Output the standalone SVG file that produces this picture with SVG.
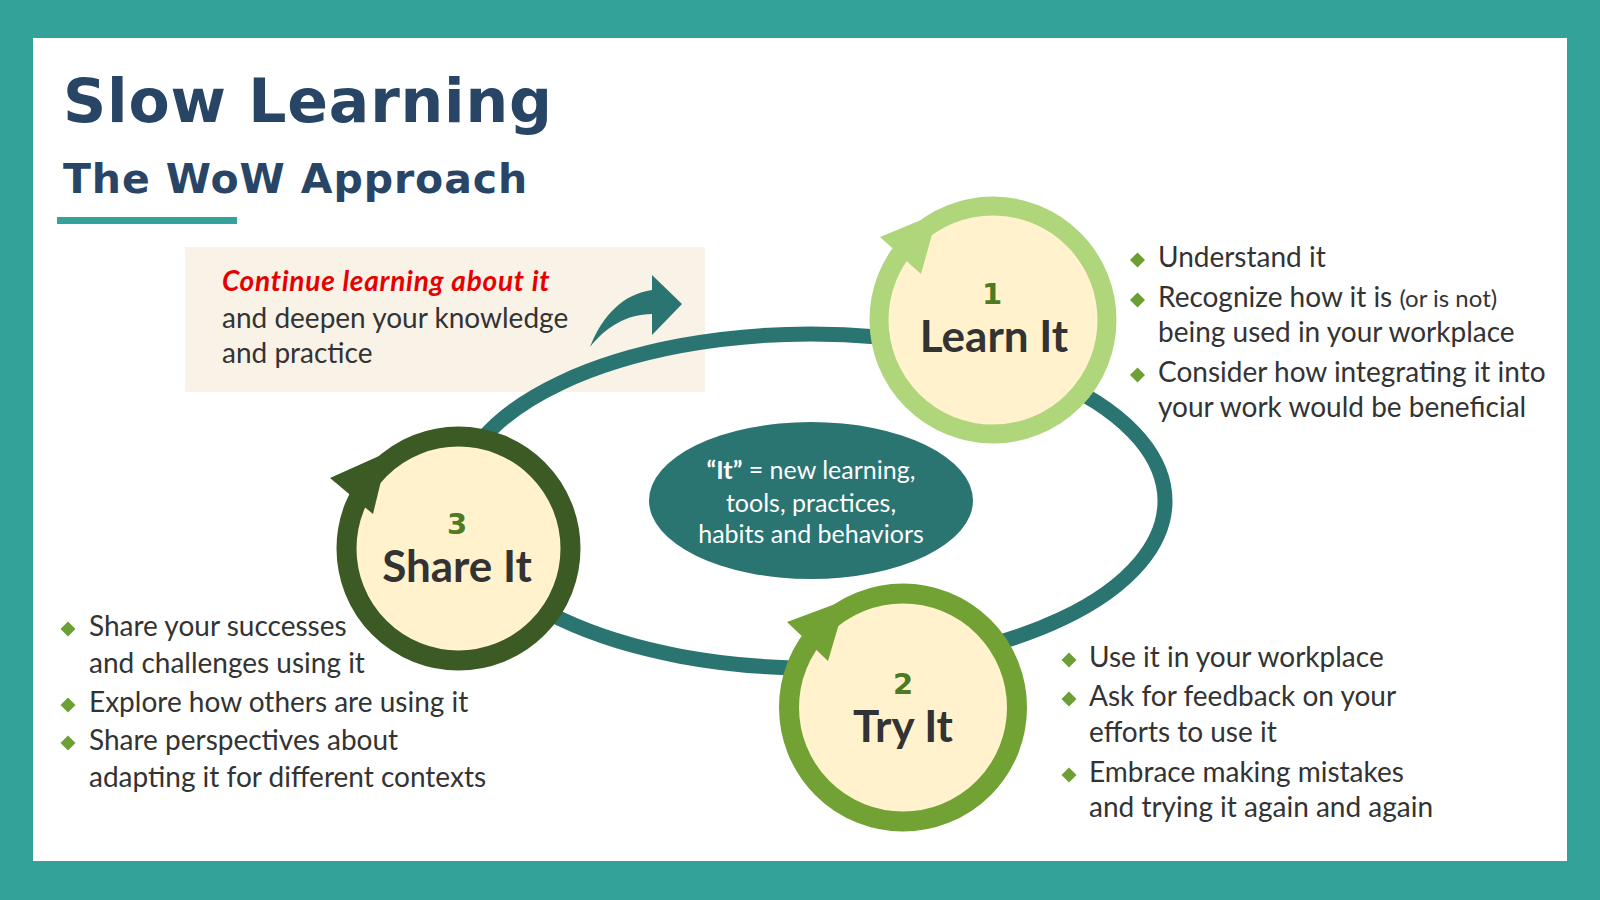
<svg xmlns="http://www.w3.org/2000/svg" width="1600" height="900" viewBox="0 0 1600 900">
<style>
.title{font-family:"DejaVu Sans",Verdana,sans-serif;font-weight:bold;fill:#284566}
.body{font-family:Lato,"Open Sans",sans-serif;font-size:28px;fill:#333333}
.small{font-size:24px}
.lbl{font-family:Lato,"Open Sans",sans-serif;font-weight:bold;font-size:44px;fill:#333333;text-anchor:middle}
.num{font-family:"DejaVu Sans",Verdana,sans-serif;font-weight:bold;font-size:29px;fill:#4e7a22;text-anchor:middle}
.core{fill:#fff2cc}
.bul{fill:#6c9f34}
.oval{font-family:Lato,"Open Sans",sans-serif;font-size:25px;fill:#ffffff;text-anchor:middle}
</style>
<defs>
<path id="dia" d="M0,-7.5 L7.5,0 L0,7.5 L-7.5,0 Z"/>
</defs>
<rect x="0" y="0" width="1600" height="900" fill="#33a39a"/>
<rect x="33" y="38" width="1534" height="823" fill="#ffffff"/>

<g id="title">
<text class="title" x="63" y="122" font-size="60" letter-spacing="0.8">Slow Learning</text>
<text class="title" x="63" y="193" font-size="41" letter-spacing="0.9">The WoW Approach</text>
<rect x="57" y="217" width="180" height="7" fill="#33a39a"/>
</g>

<g id="continue-box">
<rect x="185" y="247" width="520" height="145" fill="#f9f2e7"/>
<text class="body" x="222" y="291" font-weight="bold" font-style="italic" font-size="29" letter-spacing="0.75" style="fill:#e60000">Continue learning about it</text>
<text class="body" x="222" y="328">and deepen your knowledge</text>
<text class="body" x="222" y="363">and practice</text>
</g>

<g id="connectors">
<ellipse cx="811" cy="501" rx="354" ry="167" fill="none" stroke="#2a7472" stroke-width="15"/>
<path d="M590,347 C603,314 624,294 652,290 L652,275 L682,304 L652,335 L652,314 C626,314 605,328 590,347 Z" fill="#2a7472"/>
</g>

<g id="center-it">
<ellipse cx="811" cy="500.5" rx="162" ry="78.5" fill="#2a7472"/>
<text class="oval" x="811" y="479"><tspan font-weight="bold">“It”</tspan> = new learning,</text>
<text class="oval" x="811" y="512">tools, practices,</text>
<text class="oval" x="811" y="543">habits and behaviors</text>
</g>

<g id="learn-it">
<circle class="core" cx="993" cy="320" r="105"/>
<circle cx="993" cy="320" r="114" fill="none" stroke="#b0d67b" stroke-width="19"/>
<polygon points="880,237 938,213 921,274" fill="#b0d67b"/>
<text class="num" x="992" y="304">1</text>
<text class="lbl" x="994" y="352">Learn It</text>
</g>

<g id="try-it">
<circle class="core" cx="903" cy="707.5" r="105"/>
<circle cx="903" cy="707.5" r="114" fill="none" stroke="#72a234" stroke-width="20"/>
<polygon points="787,622 846,600 828,661" fill="#72a234"/>
<text class="num" x="903" y="694">2</text>
<text class="lbl" x="903" y="742">Try It</text>
</g>

<g id="share-it">
<circle class="core" cx="458.5" cy="548.5" r="103"/>
<circle cx="458.5" cy="548.5" r="112" fill="none" stroke="#3c5a24" stroke-width="20"/>
<polygon points="330,478 388,452 373,514" fill="#3c5a24"/>
<text class="num" x="457" y="534">3</text>
<text class="lbl" x="457" y="582">Share It</text>
</g>

<g id="learn-bullets">
<use href="#dia" class="bul" x="1137.5" y="260"/>
<text class="body" x="1158" y="267">Understand it</text>
<use href="#dia" class="bul" x="1137.5" y="300"/>
<text class="body" x="1158" y="307">Recognize how it is <tspan class="small">(or is not)</tspan></text>
<text class="body" x="1158" y="342">being used in your workplace</text>
<use href="#dia" class="bul" x="1137.5" y="375"/>
<text class="body" x="1158" y="382">Consider how integrating it into</text>
<text class="body" x="1158" y="417">your work would be beneficial</text>
</g>

<g id="try-bullets">
<use href="#dia" class="bul" x="1069" y="660"/>
<text class="body" x="1089" y="667">Use it in your workplace</text>
<use href="#dia" class="bul" x="1069" y="699"/>
<text class="body" x="1089" y="706">Ask for feedback on your</text>
<text class="body" x="1089" y="742">efforts to use it</text>
<use href="#dia" class="bul" x="1069" y="775"/>
<text class="body" x="1089" y="782">Embrace making mistakes</text>
<text class="body" x="1089" y="817">and trying it again and again</text>
</g>

<g id="share-bullets">
<use href="#dia" class="bul" x="68" y="629"/>
<text class="body" x="89" y="636">Share your successes</text>
<text class="body" x="89" y="673">and challenges using it</text>
<use href="#dia" class="bul" x="68" y="705"/>
<text class="body" x="89" y="712">Explore how others are using it</text>
<use href="#dia" class="bul" x="68" y="743"/>
<text class="body" x="89" y="750">Share perspectives about</text>
<text class="body" x="89" y="787">adapting it for different contexts</text>
</g>
</svg>
